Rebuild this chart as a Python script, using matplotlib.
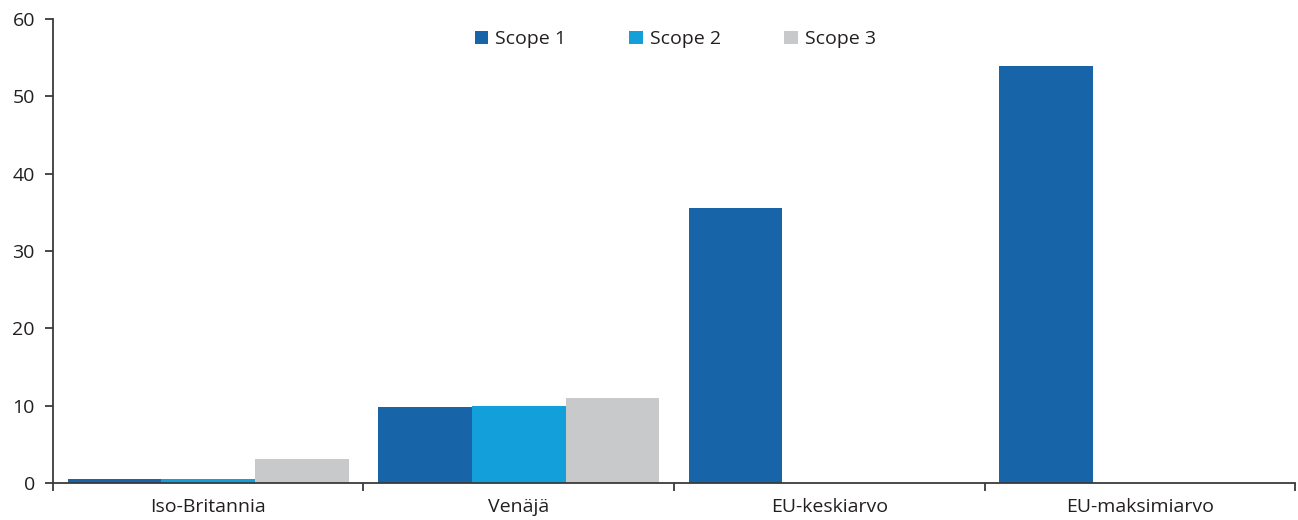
import numpy as np
import matplotlib.pyplot as plt

plt.rcParams['font.family'] = ['Open Sans', 'DejaVu Sans']

categories = ['Iso-Britannia', 'Venäjä', 'EU-keskiarvo', 'EU-maksimiarvo']
scope1 = [0.5, 9.8, 35.6, 53.9]
scope2 = [0.5, 10.0, np.nan, np.nan]
scope3 = [3.1, 11.0, np.nan, np.nan]
series_names = ['Scope 1', 'Scope 2', 'Scope 3']
colors = ['#1864a8', '#139fd9', '#c8c9cb']
txt = '#231f20'

fig = plt.figure(figsize=(12.98, 5.2), dpi=100)
ax = fig.add_axes([0.0408, 0.0712, 0.9569, 0.8923])

x = np.arange(len(categories))
w = 0.302
for i, (vals, name, c) in enumerate(zip([scope1, scope2, scope3], series_names, colors)):
    ax.bar(x + (i - 1) * w, vals, w, color=c, label=name, linewidth=0)

ax.set_xlim(-0.5, len(categories) - 0.5)
ax.set_ylim(0, 60)
ax.set_yticks(range(0, 61, 10))
ax.set_xticks(x)
ax.set_xticklabels(categories)
ax.set_xticks(np.arange(-0.5, len(categories), 1), minor=True)
ax.tick_params(axis='x', which='major', length=0, pad=11, labelsize=14, colors=txt)
ax.tick_params(axis='x', which='minor', length=6, width=1.3, color='#3a3a3a')
ax.tick_params(axis='y', length=6, width=1.3, color='#3a3a3a', labelsize=14, labelcolor=txt, pad=7)

for s in ['top', 'right']:
    ax.spines[s].set_visible(False)
for s in ['left', 'bottom']:
    ax.spines[s].set_linewidth(1.3)
    ax.spines[s].set_color('#3a3a3a')

leg = ax.legend(loc='upper center', bbox_to_anchor=(0.501, 1.013), ncol=3, frameon=False,
                fontsize=14, handlelength=0.7, handleheight=0.7, handletextpad=0.35,
                columnspacing=3.25, labelcolor=txt)

fig.savefig('out.png', dpi=100)
